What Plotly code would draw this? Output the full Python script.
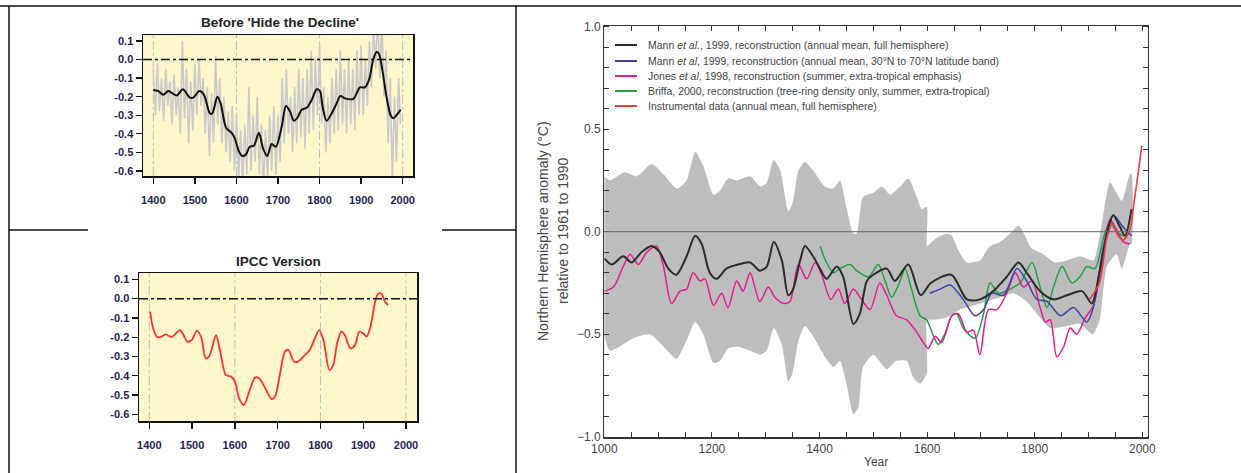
import plotly.graph_objects as go

W, H = 1241, 473
FONT = "Liberation Sans"

# ---------------- data ----------------
# Top-left panel: "Before 'Hide the Decline'" (annual values, grey, 5-year samples)
hide_gray_years = list(range(1400, 2000, 5))
hide_gray_values = [
    -0.05, -0.30, -0.02, -0.28, -0.10, -0.33, -0.05, -0.25, -0.12, -0.35,
    -0.08, -0.30, -0.15, -0.40, 0.10, -0.32, -0.05, -0.45, -0.12, -0.38,
    -0.02, -0.30, 0.00, -0.25, -0.10, -0.40, -0.15, -0.52, -0.18, -0.45,
    0.02, -0.35, -0.10, -0.45, -0.20, -0.50, -0.28, -0.55, -0.25, -0.60,
    -0.30, -0.65, -0.38, -0.68, -0.35, -0.62, -0.15, -0.60, -0.30, -0.55,
    -0.20, -0.62, -0.35, -0.70, -0.38, -0.65, -0.30, -0.60, -0.25, -0.62,
    -0.30, -0.55, -0.10, -0.45, -0.05, -0.40, -0.20, -0.50, -0.15, -0.45,
    -0.05, -0.42, -0.10, -0.48, -0.05, -0.40, 0.05, -0.38, 0.00, -0.30,
    0.08, -0.35, -0.15, -0.50, -0.20, -0.45, -0.10, -0.40, -0.05, -0.38,
    0.05, -0.35, -0.05, -0.40, 0.00, -0.35, -0.05, -0.38, 0.05, -0.30,
    0.08, -0.30, 0.00, -0.25, 0.10, -0.15, 0.20, -0.05, 0.25, -0.10,
    0.20, -0.20, 0.05, -0.45, -0.10, -0.65, -0.20, -0.55, -0.10, -0.35,
]
# smoothed black curve (year, value)
hide_smooth = [
    (1400, -0.164), (1412, -0.17), (1424, -0.19), (1436, -0.17), (1456, -0.194),
    (1471, -0.16), (1488, -0.205), (1496, -0.205), (1511, -0.17), (1522, -0.19),
    (1536, -0.29), (1542, -0.29), (1554, -0.20), (1562, -0.236), (1575, -0.367),
    (1588, -0.394), (1596, -0.424), (1607, -0.50), (1615, -0.52), (1623, -0.51),
    (1632, -0.47), (1642, -0.464), (1654, -0.394), (1664, -0.478), (1674, -0.52),
    (1685, -0.455), (1695, -0.47), (1709, -0.36), (1719, -0.25), (1729, -0.28),
    (1738, -0.33), (1746, -0.316), (1757, -0.27), (1769, -0.26), (1781, -0.218),
    (1793, -0.16), (1801, -0.17), (1807, -0.25), (1817, -0.33), (1829, -0.29),
    (1841, -0.236), (1850, -0.196), (1861, -0.209), (1881, -0.212), (1897, -0.15),
    (1909, -0.15), (1919, -0.11), (1929, -0.002), (1937, 0.04), (1943, 0.03),
    (1951, -0.056), (1961, -0.20), (1971, -0.30), (1977, -0.316), (1985, -0.30),
    (1995, -0.27),
]
# Bottom-left panel: "IPCC Version" (red curve)
ipcc_red = [
    (1402, -0.068), (1409, -0.154), (1419, -0.20), (1429, -0.197), (1439, -0.185),
    (1452, -0.20), (1472, -0.163), (1489, -0.223), (1499, -0.215), (1511, -0.166),
    (1521, -0.197), (1532, -0.31), (1540, -0.30), (1556, -0.19), (1565, -0.266),
    (1579, -0.396), (1592, -0.405), (1600, -0.43), (1610, -0.517), (1621, -0.552),
    (1634, -0.48), (1647, -0.41), (1657, -0.413), (1673, -0.474), (1686, -0.522),
    (1694, -0.508), (1705, -0.396), (1717, -0.275), (1725, -0.266), (1738, -0.327),
    (1748, -0.327), (1764, -0.292), (1775, -0.266), (1787, -0.206), (1797, -0.163),
    (1807, -0.215), (1821, -0.37), (1830, -0.344), (1839, -0.232), (1849, -0.171),
    (1857, -0.189), (1870, -0.258), (1881, -0.24), (1891, -0.171), (1900, -0.18),
    (1908, -0.197), (1917, -0.145), (1927, -0.024), (1935, 0.027), (1943, 0.024),
    (1951, -0.016), (1958, -0.033),
]
left_ytick_vals = [0.1, 0.0, -0.1, -0.2, -0.3, -0.4, -0.5, -0.6]
left_ytick_text = ["0.1", "0.0", "-0.1", "-0.2", "-0.3", "-0.4", "-0.5", "-0.6"]

# Right panel (year, anomaly)
mann_nh = [
    (1000, -0.13), (1014, -0.16), (1035, -0.12), (1051, -0.15), (1069, -0.10),
    (1088, -0.07), (1103, -0.10), (1119, -0.18), (1134, -0.21), (1153, -0.12),
    (1169, -0.02), (1181, -0.06), (1196, -0.20), (1209, -0.23), (1227, -0.18),
    (1249, -0.16), (1271, -0.15), (1289, -0.19), (1302, -0.17), (1315, -0.05),
    (1330, -0.14), (1342, -0.31), (1351, -0.28), (1364, -0.14), (1373, -0.07),
    (1388, -0.12), (1401, -0.18), (1413, -0.23), (1432, -0.17), (1444, -0.22),
    (1463, -0.45), (1475, -0.40), (1488, -0.24), (1500, -0.21), (1525, -0.18),
    (1540, -0.24), (1565, -0.16), (1588, -0.31), (1607, -0.25), (1645, -0.21),
    (1674, -0.33), (1698, -0.33), (1723, -0.29), (1748, -0.22), (1770, -0.15),
    (1785, -0.20), (1810, -0.29), (1835, -0.33), (1860, -0.31), (1888, -0.29),
    (1906, -0.35), (1921, -0.19), (1937, 0.02), (1946, 0.08), (1959, 0.02),
    (1968, -0.02), (1980, 0.11),
]
mann_3070 = [
    (1605, -0.30), (1624, -0.28), (1643, -0.26), (1667, -0.33), (1689, -0.41),
    (1705, -0.38), (1720, -0.30), (1742, -0.31), (1767, -0.18), (1785, -0.24),
    (1804, -0.33), (1823, -0.34), (1848, -0.41), (1872, -0.37), (1897, -0.44),
    (1909, -0.37), (1928, -0.07), (1946, 0.08), (1965, 0.02), (1980, -0.02),
]
jones = [
    (1000, -0.29), (1017, -0.27), (1035, -0.17), (1048, -0.11), (1063, -0.16),
    (1079, -0.10), (1097, -0.07), (1110, -0.17), (1125, -0.35), (1141, -0.29),
    (1153, -0.28), (1165, -0.20), (1178, -0.24), (1187, -0.23), (1203, -0.36),
    (1218, -0.30), (1230, -0.37), (1246, -0.24), (1258, -0.29), (1271, -0.20),
    (1289, -0.34), (1305, -0.27), (1317, -0.32), (1333, -0.35), (1345, -0.34),
    (1361, -0.16), (1376, -0.23), (1392, -0.15), (1404, -0.21), (1421, -0.33),
    (1435, -0.28), (1447, -0.35), (1463, -0.28), (1478, -0.33), (1494, -0.38),
    (1512, -0.25), (1525, -0.31), (1543, -0.41), (1562, -0.43), (1578, -0.48),
    (1593, -0.54), (1602, -0.57), (1615, -0.51), (1627, -0.54), (1646, -0.41),
    (1658, -0.40), (1674, -0.49), (1686, -0.48), (1698, -0.60), (1714, -0.38),
    (1730, -0.38), (1748, -0.30), (1764, -0.20), (1779, -0.27), (1795, -0.24),
    (1810, -0.37), (1820, -0.44), (1829, -0.43), (1841, -0.61), (1854, -0.56),
    (1866, -0.47), (1878, -0.50), (1894, -0.42), (1909, -0.36), (1928, -0.10),
    (1940, 0.06), (1952, 0.01), (1965, -0.05), (1977, -0.06),
]
briffa = [
    (1401, -0.07), (1413, -0.15), (1426, -0.20), (1438, -0.18), (1457, -0.16),
    (1469, -0.19), (1491, -0.22), (1509, -0.16), (1522, -0.24), (1534, -0.32),
    (1550, -0.24), (1559, -0.18), (1571, -0.28), (1587, -0.41), (1599, -0.43),
    (1612, -0.51), (1621, -0.55), (1633, -0.50), (1646, -0.41), (1655, -0.40),
    (1667, -0.47), (1689, -0.52), (1705, -0.40), (1717, -0.25), (1733, -0.30),
    (1754, -0.28), (1773, -0.25), (1795, -0.15), (1810, -0.27), (1823, -0.37),
    (1835, -0.27), (1851, -0.17), (1869, -0.25), (1884, -0.22), (1897, -0.17),
    (1912, -0.18), (1928, -0.03), (1940, 0.05), (1952, 0.00), (1965, -0.02),
]
instrumental = [
    (1902, -0.33), (1920, -0.25), (1935, -0.02), (1945, 0.04), (1955, -0.02),
    (1965, -0.04), (1977, 0.01), (1985, 0.15), (1992, 0.28), (1999, 0.42),
]
band_upper = [
    (1000, 0.27), (1010, 0.25), (1038, 0.29), (1060, 0.27), (1088, 0.33),
    (1110, 0.28), (1135, 0.21), (1153, 0.25), (1169, 0.39), (1184, 0.32),
    (1203, 0.18), (1215, 0.20), (1230, 0.26), (1246, 0.25), (1271, 0.27),
    (1290, 0.22), (1302, 0.24), (1315, 0.35), (1327, 0.30), (1342, 0.10),
    (1350, 0.14), (1361, 0.30), (1373, 0.34), (1388, 0.30), (1410, 0.22),
    (1425, 0.21), (1438, 0.25), (1450, 0.12), (1463, -0.01), (1469, -0.01),
    (1481, 0.17), (1500, 0.19), (1516, 0.22), (1531, 0.18), (1550, 0.22),
    (1565, 0.26), (1581, 0.17), (1590, 0.11), (1599.5, 0.12), (1600, -0.07),
    (1605, -0.06), (1618, -0.03), (1636, -0.01), (1646, -0.02), (1658, -0.09),
    (1674, -0.15), (1698, -0.14), (1717, -0.07), (1736, -0.05), (1754, -0.01),
    (1770, 0.03), (1782, -0.02), (1794, -0.08), (1816, -0.11), (1838, -0.15),
    (1860, -0.14), (1884, -0.12), (1909, -0.14), (1921, -0.02), (1940, 0.24),
    (1952, 0.19), (1962, 0.15), (1977, 0.28), (1980, 0.28),
]
band_lower = [
    (1000, -0.51), (1010, -0.58), (1029, -0.56), (1054, -0.52), (1085, -0.50),
    (1110, -0.56), (1134, -0.62), (1153, -0.53), (1169, -0.44), (1184, -0.50),
    (1203, -0.64), (1215, -0.63), (1230, -0.57), (1246, -0.56), (1271, -0.58),
    (1290, -0.60), (1302, -0.58), (1315, -0.47), (1330, -0.55), (1342, -0.73),
    (1350, -0.69), (1361, -0.53), (1373, -0.46), (1388, -0.51), (1410, -0.61),
    (1426, -0.66), (1438, -0.63), (1450, -0.74), (1463, -0.89), (1472, -0.86),
    (1481, -0.66), (1500, -0.60), (1525, -0.67), (1543, -0.63), (1562, -0.63),
    (1574, -0.71), (1587, -0.74), (1599.5, -0.69), (1600, -0.43), (1612, -0.43),
    (1636, -0.42), (1661, -0.38), (1686, -0.36), (1711, -0.34), (1736, -0.32),
    (1760, -0.30), (1785, -0.34), (1810, -0.42), (1829, -0.47), (1860, -0.46),
    (1884, -0.45), (1908, -0.50), (1921, -0.43), (1934, -0.17), (1952, -0.11),
    (1962, -0.18), (1977, -0.06), (1980, -0.06),
]

legend_labels = [
    "Mann <i>et al.</i>, 1999, reconstruction (annual mean, full hemisphere)",
    "Mann <i>et al</i>, 1999, reconstruction (annual mean, 30°N to 70°N latitude band)",
    "Jones <i>et al</i>, 1998, reconstruction (summer, extra-tropical emphasis)",
    "Briffa, 2000, reconstruction (tree-ring density only, summer, extra-tropical)",
    "Instrumental data (annual mean, full hemisphere)",
]

# ---------------- styling ----------------
C_BLACK = "#2b2b2b"
C_BLUE = "#3c44a6"
C_PINK = "#e8198f"
C_GREEN = "#1fa043"
C_RED = "#f23a3a"
C_BAND = "#bdbdbd"
YELLOW = "#fff7cc"
NAVY = "#1e1e5a"
legend_colors = [C_BLACK, C_BLUE, C_PINK, C_GREEN, C_RED]


def px_x(p):
    return p / W


def px_y(p):
    return 1 - p / H


def xs(pairs):
    return [p[0] for p in pairs]


def ys(pairs):
    return [p[1] for p in pairs]


fig = go.Figure()

# --- top-left traces
fig.add_trace(go.Scatter(x=hide_gray_years, y=hide_gray_values, mode="lines",
                         line=dict(color="#c9c9c9", width=1.6),
                         xaxis="x", yaxis="y", showlegend=False))
fig.add_trace(go.Scatter(x=xs(hide_smooth), y=ys(hide_smooth), mode="lines",
                         line=dict(color="#111111", width=2, shape="spline", smoothing=0.8),
                         xaxis="x", yaxis="y", showlegend=False))
# --- bottom-left trace
fig.add_trace(go.Scatter(x=xs(ipcc_red), y=ys(ipcc_red), mode="lines",
                         line=dict(color="#ff3030", width=1.8, shape="spline", smoothing=0.8),
                         xaxis="x2", yaxis="y2", showlegend=False))

# --- right panel: uncertainty band
band_x = xs(band_upper) + xs(band_lower)[::-1]
band_y = ys(band_upper) + ys(band_lower)[::-1]
fig.add_trace(go.Scatter(x=band_x, y=band_y, mode="lines", fill="toself",
                         fillcolor=C_BAND,
                         line=dict(width=0, color=C_BAND, shape="spline", smoothing=0.6),
                         xaxis="x3", yaxis="y3", showlegend=False, hoverinfo="skip"))

for series, color, width in [(briffa, C_GREEN, 1.5), (jones, C_PINK, 1.5),
                             (mann_3070, C_BLUE, 1.5), (mann_nh, C_BLACK, 2.0),
                             (instrumental, C_RED, 1.6)]:
    fig.add_trace(go.Scatter(x=xs(series), y=ys(series), mode="lines",
                             line=dict(color=color, width=width, shape="spline", smoothing=0.8),
                             xaxis="x3", yaxis="y3", showlegend=False))

# ---------------- axes ----------------
left_tickfont = dict(family=FONT, size=11, color=NAVY, weight="bold")
common_left_x = dict(dtick=100, tick0=1400, ticks="outside", ticklen=6, tickwidth=1.3,
                     tickcolor="#111", showline=True, linecolor="#111", linewidth=1.5,
                     mirror=True, showgrid=False, zeroline=False, tickfont=left_tickfont,
                     tickformat="d", fixedrange=True, automargin=False,
                     ticklabelstandoff=7)
common_left_y = dict(tickmode="array", tickvals=left_ytick_vals, ticktext=left_ytick_text,
                     ticks="outside", ticklen=6, tickwidth=1.3,
                     tickcolor="#111", showline=True, linecolor="#111", linewidth=1.5,
                     mirror=True, showgrid=False, zeroline=False, tickfont=left_tickfont,
                     fixedrange=True, automargin=False)

right_tickfont = dict(family=FONT, size=12, color="#444")

fig.update_layout(
    width=W, height=H,
    margin=dict(l=0, r=0, t=0, b=0, pad=0, autoexpand=False),
    paper_bgcolor="white", plot_bgcolor="white",
    font=dict(family=FONT),
    xaxis=dict(domain=[px_x(143), px_x(413)], range=[1375.2, 2024.8], anchor="y",
               **common_left_x),
    yaxis=dict(domain=[px_y(176), px_y(35)], range=[-0.627, 0.132], anchor="x",
               **common_left_y),
    xaxis2=dict(domain=[px_x(139), px_x(417)], range=[1376, 2025.7], anchor="y2",
                **common_left_x),
    yaxis2=dict(domain=[px_y(421), px_y(273)], range=[-0.635, 0.133], anchor="x2",
                **common_left_y),
    xaxis3=dict(domain=[px_x(604.3), px_x(1148)], range=[1000, 2010.6], anchor="y3",
                dtick=200, tick0=1000, ticks="inside", ticklen=5, tickcolor="#333",
                minor=dict(dtick=50, tick0=1000, ticks="inside", ticklen=5, tickcolor="#333"),
                showline=True, linecolor="#333", linewidth=1.2, mirror="ticks",
                showgrid=False, zeroline=False, tickfont=right_tickfont, tickformat="d",
                fixedrange=True, automargin=False),
    yaxis3=dict(domain=[px_y(437.3), px_y(25.7)], range=[-1.003, 1.005], anchor="x3",
                dtick=0.5, tick0=0, ticks="inside", ticklen=5, tickcolor="#333",
                minor=dict(dtick=0.1, tick0=0, ticks="inside", ticklen=5, tickcolor="#333"),
                showline=True, linecolor="#333", linewidth=1.2, mirror="ticks",
                showgrid=False, zeroline=False, tickfont=right_tickfont, tickformat=".1f",
                fixedrange=True, automargin=False),
)

shapes = []
# yellow backgrounds of left panels
for xr, yr in [("x", "y"), ("x2", "y2")]:
    shapes.append(dict(type="rect", xref=f"{xr} domain", yref=f"{yr} domain",
                       x0=0, x1=1, y0=0, y1=1, fillcolor=YELLOW, line=dict(width=0),
                       layer="below"))
    for yr_v in [1400, 1600, 1800, 2000]:
        shapes.append(dict(type="line", xref=xr, yref=f"{yr} domain", x0=yr_v, x1=yr_v,
                           y0=0, y1=1, line=dict(color="#bdbdbd", width=1, dash="dashdot"),
                           layer="below"))
    shapes.append(dict(type="line", xref=f"{xr} domain", yref=yr, x0=0, x1=1, y0=0, y1=0,
                       line=dict(color="#111", width=1.5, dash="dashdot"), layer="above"))
# zero line right panel
shapes.append(dict(type="line", xref="x3 domain", yref="y3", x0=0, x1=1, y0=0, y1=0,
                   line=dict(color="#666", width=1), layer="above"))
# frame lines
frame = [(0, 6, W, 6), (9, 6, 9, H), (516, 6, 516, H), (9, 230, 88, 230), (442, 230, 516, 230)]
for x0, y0, x1, y1 in frame:
    shapes.append(dict(type="line", xref="paper", yref="paper", x0=px_x(x0), x1=px_x(x1),
                       y0=px_y(y0), y1=px_y(y1), line=dict(color="#111", width=1.5)))
# legend samples
legend_rows = [45, 61, 76, 91, 106]
for row, col in zip(legend_rows, legend_colors):
    shapes.append(dict(type="line", xref="paper", yref="paper", x0=px_x(615), x1=px_x(637),
                       y0=px_y(row), y1=px_y(row), line=dict(color=col, width=2)))

annotations = []
for row, label in zip(legend_rows, legend_labels):
    annotations.append(dict(xref="paper", yref="paper", x=px_x(646), y=px_y(row),
                            xanchor="left", yanchor="middle", text=label, showarrow=False,
                            font=dict(family=FONT, size=10.5, color="#444")))
annotations += [
    dict(xref="paper", yref="paper", x=px_x(280), y=px_y(23), text="Before 'Hide the Decline'",
         showarrow=False, xanchor="center", yanchor="middle",
         font=dict(family=FONT, size=13.5, color="#222", weight="bold")),
    dict(xref="paper", yref="paper", x=px_x(278), y=px_y(261), text="IPCC Version",
         showarrow=False, xanchor="center", yanchor="middle",
         font=dict(family=FONT, size=13.5, color="#222", weight="bold")),
    dict(xref="paper", yref="paper", x=px_x(543), y=px_y(231),
         text="Northern Hemisphere anomaly (°C)", textangle=-90, showarrow=False,
         xanchor="center", yanchor="middle", font=dict(family=FONT, size=14, color="#444")),
    dict(xref="paper", yref="paper", x=px_x(563), y=px_y(231),
         text="relative to 1961 to 1990", textangle=-90, showarrow=False,
         xanchor="center", yanchor="middle", font=dict(family=FONT, size=14, color="#444")),
    dict(xref="paper", yref="paper", x=px_x(876), y=px_y(462), text="Year",
         showarrow=False, xanchor="center", yanchor="middle",
         font=dict(family=FONT, size=12, color="#444")),
]

fig.update_layout(shapes=shapes, annotations=annotations)
fig.write_html("out.html", config={"displayModeBar": False, "staticPlot": True},
               post_script="document.body.style.margin='0px';"
                           "document.body.style.overflow='hidden';")
